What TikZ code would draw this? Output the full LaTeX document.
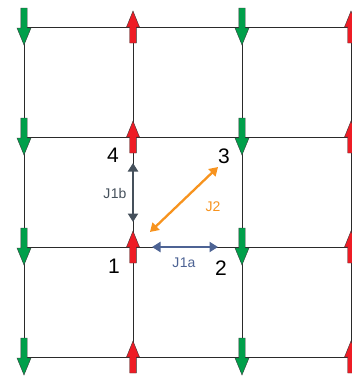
\documentclass[tikz,border=0pt]{standalone}
\usepackage{fontspec}
\setmainfont{Liberation Sans}
\usetikzlibrary{arrows.meta}
\definecolor{spgreen}{HTML}{00A04B}
\definecolor{spred}{HTML}{EE1C25}
\definecolor{spoutline}{HTML}{3A3A3A}
\definecolor{gridc}{HTML}{2A2A2A}
\definecolor{jgray}{HTML}{45505B}
\definecolor{jblue}{HTML}{4D6394}
\definecolor{jorange}{HTML}{F7931E}
\tikzset{
  gridline/.style={draw=gridc, line width=0.9pt},
  spindown/.pic={\filldraw[fill=spgreen, draw=spoutline, line width=0.4pt]
    (-3.2,-19) -- (3.2,-19) -- (3.2,1) -- (7,1) -- (0,18) -- (-7,1) -- (-3.2,1) -- cycle;},
  spinup/.pic={\filldraw[fill=spred, draw=spoutline, line width=0.4pt]
    (-3.3,16) -- (3.3,16) -- (3.3,0) -- (6.5,0) -- (0,-16) -- (-6.5,0) -- (-3.3,0) -- cycle;},
  coupling/.style={line width=2.3pt, {Triangle[length=8.5pt,width=10pt]}-{Triangle[length=8.5pt,width=10pt]}},
  sitelabel/.style={font=\fontsize{21}{21}\selectfont, text=black, inner sep=0pt},
  jlabel/.style={font=\fontsize{14}{14}\selectfont, inner sep=0pt}
}
\begin{document}
\begin{tikzpicture}[x=1pt,y=-1pt]
\useasboundingbox (0,0) rectangle (352,381);
\foreach \i/\x in {1/24,2/133,3/242,4/351}
  \foreach \j/\y in {1/27,2/137,3/247,4/357}
    \coordinate (s\i\j) at (\x,\y);
\foreach \j in {1,...,4} \draw[gridline] (s1\j) -- (s4\j);
\foreach \i in {1,...,4} \draw[gridline] (s\i1) -- (s\i4);
\foreach \j in {1,...,4} {
  \pic at (s1\j) {spindown};
  \pic at (s2\j) {spinup};
  \pic at (s3\j) {spindown};
  \pic at (s4\j) {spinup};
}
% coupling end points
\coordinate (b4) at (133,163);
\coordinate (b1) at (133,222);
\coordinate (a1) at (152,247);
\coordinate (a2) at (218,247);
\coordinate (d1) at (150,232);
\coordinate (d3) at (218,167);
\draw[coupling, jgray] (b4) -- (b1);
\draw[coupling, jblue] (a1) -- (a2);
\draw[coupling, jorange] (d1) -- (d3);
\node[sitelabel] (l4) at (113,155.5) {4};
\node[sitelabel] (l3) at (224,156) {3};
\node[sitelabel] (l1) at (114,266) {1};
\node[sitelabel] (l2) at (221,268) {2};
\node[jlabel, text=jgray] (j1b) at (115,193) {J\kern0.5pt 1b};
\node[jlabel, text=jblue] (j1a) at (184,263) {J\kern0.5pt 1a};
\node[jlabel, text=jorange] (j2) at (213,207) {J2};
\end{tikzpicture}
\end{document}
